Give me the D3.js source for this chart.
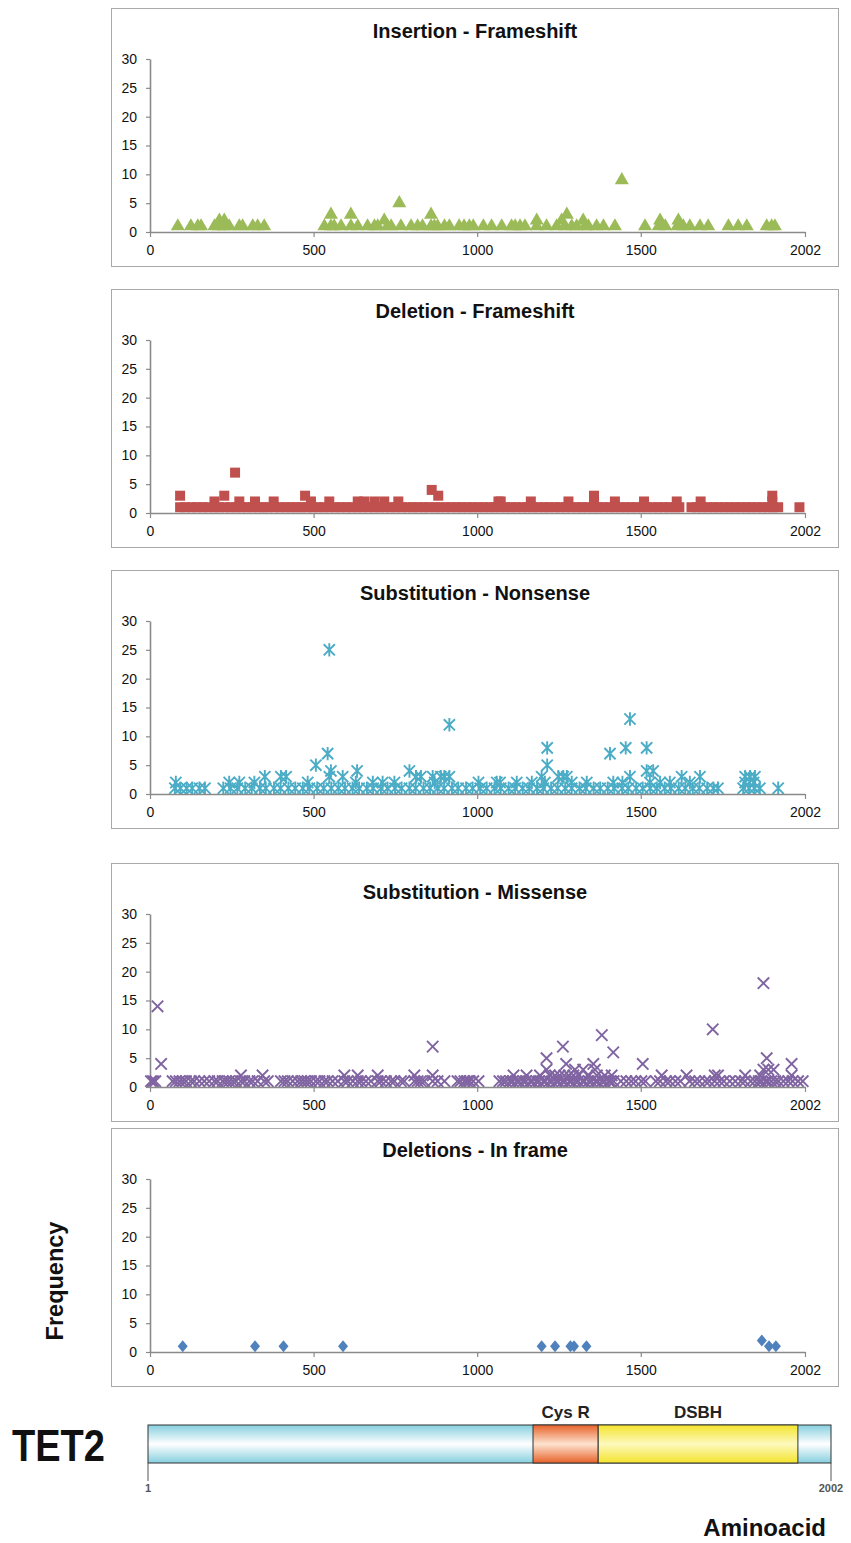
<!DOCTYPE html>
<html>
<head>
<meta charset="utf-8">
<script src="https://cdn.jsdelivr.net/npm/d3@7"></script>
<style>
    body { margin: 0; background: #fff; }
    svg { font-family: "Liberation Sans", Arial, sans-serif; display: block; }
</style>
</head>
<body>
<svg id="chart"></svg>
<script>
// mutation positions (aminoacid) with frequency 1, and the ones seen more often
const insOnes = [85, 125, 146, 156, 197, 212, 227, 242, 273, 283, 314, 329, 349, 533, 553, 563, 584, 614, 635, 665, 686, 696, 726, 737, 767, 798, 818, 833, 859, 869, 879, 900, 915, 945, 960, 976, 988, 1019, 1044, 1075, 1105, 1116, 1131, 1146, 1182, 1212, 1243, 1268, 1289, 1304, 1330, 1340, 1365, 1386, 1421, 1513, 1555, 1575, 1612, 1630, 1650, 1681, 1706, 1768, 1798, 1824, 1885, 1900, 1910];
const insHigh = [[212, 2], [227, 2], [553, 3], [614, 3], [716, 2], [762, 5], [859, 3], [1182, 2], [1258, 2], [1274, 3], [1324, 2], [1442, 9], [1559, 2], [1615, 2]];

const delOnes = [92, 108, 127, 143, 161, 177, 196, 211, 229, 246, 263, 279, 297, 312, 331, 346, 361, 380, 397, 415, 430, 448, 462, 481, 497, 514, 531, 547, 566, 581, 600, 616, 634, 649, 668, 684, 701, 717, 736, 751, 770, 786, 804, 819, 837, 852, 871, 885, 904, 919, 938, 952, 971, 986, 1004, 1019, 1038, 1052, 1071, 1086, 1104, 1119, 1138, 1153, 1171, 1186, 1205, 1219, 1238, 1253, 1271, 1286, 1305, 1319, 1338, 1353, 1371, 1386, 1405, 1419, 1438, 1453, 1471, 1486, 1505, 1519, 1538, 1553, 1571, 1586, 1604, 1618, 1655, 1671, 1689, 1704, 1723, 1737, 1756, 1771, 1789, 1804, 1823, 1837, 1856, 1871, 1889, 1904, 1920, 1985];
const delHigh = [[92, 3], [197, 2], [227, 3], [260, 7], [273, 2], [321, 2], [378, 2], [474, 3], [492, 2], [548, 2], [635, 2], [655, 2], [686, 2], [716, 2], [759, 2], [861, 4], [881, 3], [1065, 2], [1072, 2], [1164, 2], [1279, 2], [1357, 2], [1357, 3], [1421, 2], [1510, 2], [1610, 2], [1683, 2], [1902, 2], [1902, 3]];

const nonOnes = [76, 93, 112, 129, 151, 168, 224, 246, 267, 291, 311, 336, 354, 379, 399, 423, 444, 467, 487, 511, 531, 554, 576, 596, 619, 639, 663, 682, 706, 726, 749, 769, 793, 812, 836, 856, 879, 899, 923, 942, 966, 986, 1009, 1029, 1053, 1072, 1096, 1116, 1139, 1159, 1183, 1202, 1226, 1246, 1269, 1289, 1313, 1332, 1356, 1376, 1399, 1419, 1443, 1462, 1486, 1506, 1529, 1549, 1573, 1592, 1616, 1636, 1659, 1679, 1703, 1722, 1736, 1813, 1831, 1848, 1864, 1920];
const nonHigh = [[79, 2], [242, 2], [273, 2], [319, 2], [351, 3], [400, 3], [416, 3], [482, 2], [507, 5], [543, 7], [548, 25], [553, 4], [548, 3], [589, 3], [629, 2], [633, 4], [681, 2], [711, 2], [747, 2], [793, 4], [813, 3], [828, 3], [864, 3], [870, 2], [889, 3], [900, 3], [915, 12], [915, 3], [1004, 2], [1060, 2], [1070, 2], [1121, 2], [1167, 2], [1197, 3], [1207, 2], [1214, 8], [1214, 5], [1248, 3], [1263, 3], [1274, 3], [1289, 2], [1335, 2], [1406, 7], [1416, 2], [1444, 2], [1454, 8], [1467, 13], [1467, 3], [1518, 8], [1518, 4], [1528, 2], [1538, 4], [1559, 2], [1589, 2], [1625, 3], [1650, 2], [1681, 3], [1819, 3], [1819, 2], [1834, 3], [1845, 2], [1849, 3]];

const misOnes = [3, 9, 16, 69, 79, 90, 100, 110, 125, 135, 151, 166, 181, 197, 207, 222, 232, 242, 253, 263, 278, 288, 304, 314, 329, 349, 360, 400, 411, 421, 436, 451, 462, 472, 482, 492, 507, 518, 533, 543, 558, 574, 594, 604, 620, 635, 645, 660, 675, 696, 706, 721, 737, 747, 767, 777, 808, 818, 828, 838, 864, 879, 900, 940, 949, 961, 969, 977, 988, 1004, 1068, 1079, 1088, 1101, 1109, 1121, 1128, 1141, 1149, 1162, 1168, 1181, 1189, 1202, 1208, 1221, 1229, 1242, 1248, 1261, 1269, 1282, 1288, 1301, 1309, 1322, 1328, 1341, 1349, 1362, 1368, 1381, 1389, 1402, 1408, 1417, 1439, 1456, 1471, 1484, 1502, 1514, 1546, 1559, 1577, 1589, 1606, 1621, 1649, 1666, 1679, 1697, 1709, 1726, 1741, 1754, 1772, 1789, 1806, 1818, 1836, 1849, 1861, 1869, 1881, 1888, 1899, 1911, 1921, 1936, 1951, 1964, 1981, 1995];
const misHigh = [[23, 14], [34, 4], [278, 2], [344, 2], [594, 2], [635, 2], [696, 2], [808, 2], [864, 7], [864, 2], [1111, 2], [1151, 2], [1192, 2], [1212, 5], [1212, 3], [1222, 2], [1238, 2], [1252, 2], [1262, 7], [1266, 2], [1272, 4], [1280, 2], [1294, 2], [1299, 3], [1310, 2], [1324, 3], [1338, 2], [1355, 4], [1360, 3], [1366, 2], [1381, 9], [1390, 2], [1411, 2], [1416, 6], [1506, 4], [1564, 2], [1640, 2], [1720, 10], [1726, 2], [1736, 2], [1819, 2], [1865, 2], [1875, 18], [1875, 3], [1885, 5], [1890, 3], [1906, 3], [1961, 4], [1961, 2]];

const infOnes = [100, 321, 408, 590, 1197, 1238, 1285, 1296, 1334, 1892, 1913];
const infHigh = [[1870, 2]];

const titles = ["Insertion - Frameshift", "Deletion - Frameshift", "Substitution - Nonsense", "Substitution - Missense", "Deletions - In frame"];
const colors = ["#9BBB59", "#C0504D", "#4BACC6", "#8064A2", "#4F81BD"];
const markers = ["triangle", "square", "star", "x", "diamond"];

const xTicks = [0, 500, 1000, 1500, 2002];
const yTicks = [0, 5, 10, 15, 20, 25, 30];

// TET2 protein domains
const domainNames = ["Cys R", "DSBH"];
const domainStart = [1129, 1320];
const domainEnd = [1320, 1905];
const domainColors = [["#e8622a", "#fde3cf"], ["#f4e42c", "#fdf9bd"]];

// layout
const width = 851, height = 1543;
const panelTops = [8, 289, 570, 863, 1128];
const titleOffsets = [23, 22, 23, 29, 22];

const svg = d3.select("#chart").attr("width", width).attr("height", height);

const xScale = d3.scaleLinear().domain([0, 2002]).range([150, 805]);

function toPoints(ones, high) {
    return ones.map(p => [p, 1]).concat(high);
}
const allData = [
    toPoints(insOnes, insHigh),
    toPoints(delOnes, delHigh),
    toPoints(nonOnes, nonHigh),
    toPoints(misOnes, misHigh),
    toPoints(infOnes, infHigh)
];

// custom marker shapes
const symStar = { draw(c, s) {
    const r = Math.sqrt(s) / 2;
    c.moveTo(-r, -r); c.lineTo(r, r);
    c.moveTo(-r, r); c.lineTo(r, -r);
    c.moveTo(0, -r * 1.2); c.lineTo(0, r * 1.2);
}};
const symX = { draw(c, s) {
    const r = Math.sqrt(s) / 2;
    c.moveTo(-r, -r); c.lineTo(r, r);
    c.moveTo(-r, r); c.lineTo(r, -r);
}};
const symDiamond = { draw(c, s) {
    const r = Math.sqrt(s) / 2;
    c.moveTo(0, -r * 1.2); c.lineTo(r, 0); c.lineTo(0, r * 1.2); c.lineTo(-r, 0); c.closePath();
}};

function markerPath(type) {
    if (type === "triangle") return d3.symbol(d3.symbolTriangle, 85)();
    if (type === "square") return d3.symbol(d3.symbolSquare, 100)();
    if (type === "star") return d3.symbol(symStar, 125)();
    if (type === "x") return d3.symbol(symX, 130)();
    return d3.symbol(symDiamond, 100)();
}

panelTops.forEach((top, i) => {
    const g = svg.append("g");

    g.append("rect")
        .attr("x", 111.5).attr("y", top + 0.5)
        .attr("width", 727).attr("height", 258)
        .attr("fill", "#fff")
        .attr("stroke", "#a9a9a9")
        .attr("stroke-width", 1);

    g.append("text")
        .attr("x", 475).attr("y", top + titleOffsets[i])
        .attr("dy", "0.35em")
        .attr("text-anchor", "middle")
        .attr("font-weight", "bold")
        .attr("font-size", 20)
        .attr("fill", "#111")
        .text(titles[i]);

    const yScale = d3.scaleLinear().domain([0, 30]).range([top + 224, top + 51]);

    // Trục Y
    const yAxisG = g.append("g")
        .attr("transform", "translate(150,0)")
        .call(d3.axisLeft(yScale).tickValues(yTicks).tickSize(4).tickSizeOuter(0).tickPadding(9));

    // data
    const path = markerPath(markers[i]);
    const filled = markers[i] !== "star" && markers[i] !== "x";
    g.append("g").selectAll("path")
        .data(allData[i])
        .enter().append("path")
        .attr("d", path)
        .attr("transform", d => `translate(${xScale(d[0])},${yScale(d[1])})`)
        .attr("fill", filled ? colors[i] : "none")
        .attr("stroke", filled ? "none" : colors[i])
        .attr("stroke-width", filled ? 0 : 1.9);

    // Trục X
    const xAxisG = g.append("g")
        .attr("transform", `translate(0,${top + 224})`)
        .call(d3.axisBottom(xScale).tickValues(xTicks).tickFormat(d3.format("d")).tickSize(5).tickSizeOuter(0).tickPadding(8));

    [xAxisG, yAxisG].forEach(a => {
        a.select(".domain").attr("stroke", "#8a8a8a").attr("stroke-width", 1.6);
        a.selectAll(".tick line").attr("stroke", "#8a8a8a").attr("stroke-width", 1.2);
        a.selectAll(".tick text").attr("font-size", 14).attr("fill", "#111")
            .attr("font-family", "'Liberation Sans', Arial, sans-serif");
    });
});

// Frequency label
svg.append("text")
    .attr("transform", "translate(55,1281) rotate(-90)")
    .attr("dy", "0.35em")
    .attr("text-anchor", "middle")
    .attr("font-weight", "bold")
    .attr("font-size", 23.5)
    .attr("fill", "#111")
    .text("Frequency");

// TET2 protein bar
const barX = d3.scaleLinear().domain([1, 2002]).range([148, 831]);
const barTop = 1425, barH = 38;
const defs = svg.append("defs");

function addGrad(id, edge, mid) {
    const grad = defs.append("linearGradient")
        .attr("id", id).attr("x1", 0).attr("y1", 0).attr("x2", 0).attr("y2", 1);
    grad.append("stop").attr("offset", "0%").attr("stop-color", edge);
    grad.append("stop").attr("offset", "50%").attr("stop-color", mid);
    grad.append("stop").attr("offset", "100%").attr("stop-color", edge);
}
addGrad("gBase", "#86cfdf", "#ffffff");
domainColors.forEach((c, i) => addGrad("gDom" + i, c[0], c[1]));

svg.append("rect")
    .attr("x", barX(1)).attr("y", barTop)
    .attr("width", barX(2002) - barX(1)).attr("height", barH)
    .attr("fill", "url(#gBase)")
    .attr("stroke", "#333").attr("stroke-width", 1);

domainNames.forEach((name, i) => {
    svg.append("rect")
        .attr("x", barX(domainStart[i])).attr("y", barTop)
        .attr("width", barX(domainEnd[i]) - barX(domainStart[i])).attr("height", barH)
        .attr("fill", `url(#gDom${i})`)
        .attr("stroke", "#333").attr("stroke-width", 1);
    svg.append("text")
        .attr("x", (barX(domainStart[i]) + barX(domainEnd[i])) / 2)
        .attr("y", 1412).attr("dy", "0.35em")
        .attr("text-anchor", "middle")
        .attr("font-weight", "bold")
        .attr("font-size", 17)
        .attr("fill", "#222")
        .text(name);
});

// end ticks under the bar
[1, 2002].forEach(v => {
    svg.append("line")
        .attr("x1", barX(v)).attr("x2", barX(v))
        .attr("y1", barTop + barH).attr("y2", 1481)
        .attr("stroke", "#555").attr("stroke-width", 1);
    svg.append("text")
        .attr("x", barX(v)).attr("y", 1488).attr("dy", "0.35em")
        .attr("text-anchor", "middle")
        .attr("font-weight", "bold")
        .attr("font-size", 11)
        .attr("fill", "#555")
        .text(v);
});

svg.append("text")
    .attr("x", 12).attr("y", 1446).attr("dy", "0.35em")
    .attr("font-weight", "bold")
    .attr("font-size", 44)
    .attr("textLength", 93)
    .attr("lengthAdjust", "spacingAndGlyphs")
    .attr("fill", "#111")
    .text("TET2");

svg.append("text")
    .attr("x", 826).attr("y", 1528).attr("dy", "0.35em")
    .attr("text-anchor", "end")
    .attr("font-weight", "bold")
    .attr("font-size", 24)
    .attr("fill", "#111")
    .text("Aminoacid");
</script>
</body>
</html>
